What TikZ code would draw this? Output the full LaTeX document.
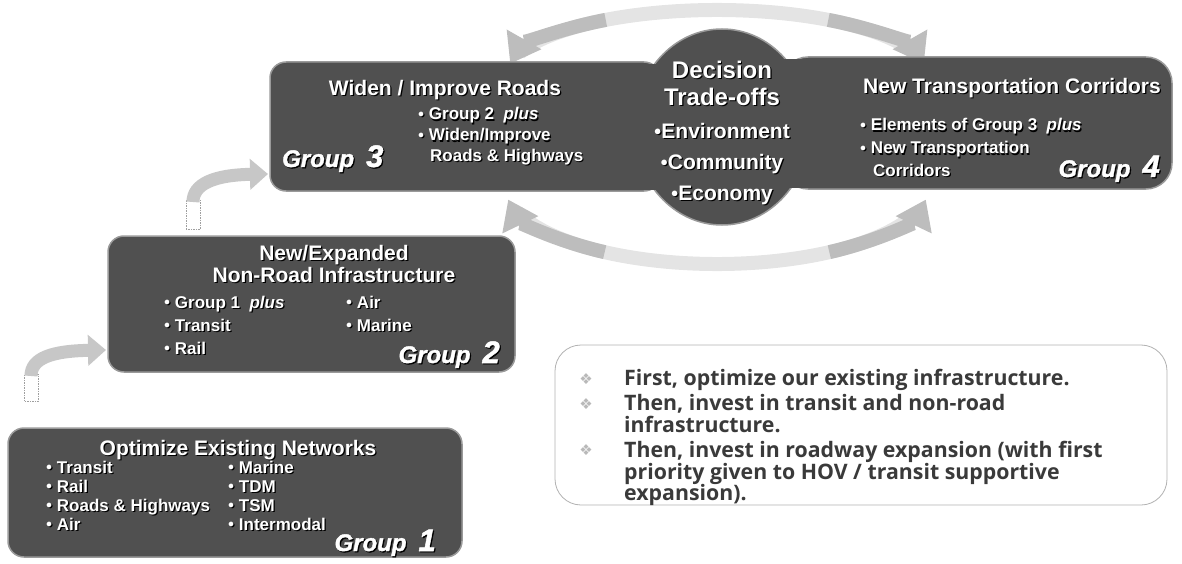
\documentclass[tikz,border=0pt]{standalone}
\usepackage{fontspec}
\setmainfont{Liberation Sans}
\newfontfamily\notefont{Open Sans}
\newfontfamily\symfont{DejaVu Sans}
\newfontfamily\grpfont[FakeBold=1.6]{Liberation Sans Bold Italic}
\usetikzlibrary{arrows.meta,shapes.geometric,calc}
\definecolor{boxgray}{HTML}{505050}
\definecolor{boxedge}{HTML}{9A9A9A}
\definecolor{arrgray}{HTML}{BDBDBD}
\definecolor{arrlight}{HTML}{E4E4E4}
\definecolor{txtgray}{HTML}{3A3A3A}
\newcommand\shd[1]{\makebox[0pt][l]{\kern1.2pt\raisebox{-1.2pt}{\color{black}#1}}#1}
\newcommand\bul{\raisebox{0.15em}{\scalebox{0.7}{$\bullet$}}}
\tikzset{
  grp/.style={draw=boxedge, line width=1.5pt, fill=boxgray, rounded corners=16pt},
  ttl/.style={text=white, font=\bfseries\fontsize{21}{21}\selectfont, inner sep=0, anchor=base},
  itm/.style={text=white, font=\bfseries\fontsize{17}{17}\selectfont, inner sep=0, anchor=base west},
  glab/.style={text=white, font=\grpfont\fontsize{24}{24}\selectfont, inner sep=0},
  dech/.style={text=white, font=\bfseries\fontsize{24}{24}\selectfont, inner sep=0, anchor=base},
  decb/.style={text=white, font=\bfseries\fontsize{21}{21}\selectfont, inner sep=0, anchor=base},
  note/.style={text=txtgray, font=\notefont\bfseries\fontsize{21.3}{21.3}\selectfont, inner sep=0, anchor=base west},
  nbul/.style={text=gray!55, font=\symfont\fontsize{15}{15}\selectfont, inner sep=0},
  band/.style={line width=14pt},
  steparr/.style={draw=arrgray!85, line width=13pt, -{Triangle[width=30pt,length=18pt]}},
  stem/.style={draw=gray!75, line width=0.6pt, dash pattern=on 1.5pt off 1pt, fill=white},
}
\begin{document}
\begin{tikzpicture}[x=1pt,y=-1pt]
\useasboundingbox (0,0) rectangle (1182,564);

% ---------- big curved arrows between group 3 and group 4 ----------
\coordinate (tc) at (717,75);
\coordinate (bc) at (717,186);
\coordinate (tl) at ($(tc)+(190:210 and 65)$);
\coordinate (tr) at ($(tc)+(350:210 and 65)$);
\coordinate (bl) at ($(bc)+(170:212 and 78)$);
\coordinate (br) at ($(bc)+(10:212 and 78)$);
\draw[band, draw=arrlight] ($(tc)+(200:210 and 65)$) arc[start angle=200, end angle=340, x radius=210, y radius=65];
\draw[band, draw=arrgray, {Triangle[width=38pt,length=28pt]}-] (tl) arc[start angle=190, end angle=238, x radius=210, y radius=65];
\draw[band, draw=arrgray, -{Triangle[width=38pt,length=28pt]}] ($(tc)+(302:210 and 65)$) arc[start angle=302, end angle=350, x radius=210, y radius=65];
\draw[band, draw=arrlight] ($(bc)+(160:212 and 78)$) arc[start angle=160, end angle=20, x radius=212, y radius=78];
\draw[band, draw=arrgray, {Triangle[width=38pt,length=28pt]}-] (bl) arc[start angle=170, end angle=122, x radius=212, y radius=78];
\draw[band, draw=arrgray, -{Triangle[width=38pt,length=28pt]}] ($(bc)+(58:212 and 78)$) arc[start angle=58, end angle=10, x radius=212, y radius=78];

% ---------- boxes ----------
\node[grp, minimum width=454pt, minimum height=129pt] (g1) at (235,492.5) {};
\node[grp, minimum width=407pt, minimum height=136pt] (g2) at (311.5,304) {};
\node[grp, minimum width=390pt, minimum height=129pt] (g3) at (465,126.5) {};
\node[grp, rounded corners=26pt, minimum width=390pt, minimum height=132pt] (g4) at (977,123) {};
\node[ellipse, draw=boxedge, line width=1.5pt, fill=boxgray, minimum width=176pt, minimum height=196pt, inner sep=0] (dt) at (722,127) {};
\fill[boxgray] (620,64) rectangle (665,189.5);
\fill[boxgray] (780,59) rectangle (830,188);

% ---------- step arrows ----------
\coordinate (t1) at (106,350);
\coordinate (t2) at (268,174);
\draw[stem] (24,401) rectangle (38,374);
\draw[steparr] (31,376) .. controls (31,358) and (52,351) .. (t1);
\draw[stem] (186,229) rectangle (200,200);
\draw[steparr] (193,202) .. controls (193,184) and (214,175) .. (t2);

% ---------- group 1 ----------
\node[ttl] (g1t) at (238,455) {\shd{Optimize Existing Networks}};
\node[itm] (g1a) at (46,473) {\shd{\bul\ Transit}};
\node[itm] (g1b) at (46,492) {\shd{\bul\ Rail}};
\node[itm] (g1c) at (46,511) {\shd{\bul\ Roads \& Highways}};
\node[itm] (g1d) at (46,530) {\shd{\bul\ Air}};
\node[itm] (g1e) at (228,473) {\shd{\bul\ Marine}};
\node[itm] (g1f) at (228,492) {\shd{\bul\ TDM}};
\node[itm] (g1g) at (228,511) {\shd{\bul\ TSM}};
\node[itm] (g1h) at (228,530) {\shd{\bul\ Intermodal}};
\node[glab, anchor=base east] (g1l) at (436,551) {\shd{Group\enspace{\fontsize{31}{31}\selectfont 1}}};

% ---------- group 2 ----------
\node[ttl, align=center, font=\bfseries\fontsize{21}{18}\selectfont] (g2t) at (334,282) {\shd{New/Expanded}\\\shd{Non-Road Infrastructure}};
\node[itm] (g2a) at (164,308) {\shd{\bul\ Group 1\ \ \textit{plus}}};
\node[itm] (g2b) at (164,331) {\shd{\bul\ Transit}};
\node[itm] (g2c) at (164,354) {\shd{\bul\ Rail}};
\node[itm] (g2d) at (346,308) {\shd{\bul\ Air}};
\node[itm] (g2e) at (346,331) {\shd{\bul\ Marine}};
\node[glab, anchor=base east] (g2l) at (500,363) {\shd{Group\enspace{\fontsize{31}{31}\selectfont 2}}};

% ---------- group 3 ----------
\node[ttl] (g3t) at (445,95.5) {\shd{Widen / Improve Roads}};
\node[itm] (g3a) at (418,120) {\shd{\bul\ Group 2\ \ \textit{plus}}};
\node[itm] (g3b) at (418,141) {\shd{\bul\ Widen/Improve}};
\node[itm] (g3c) at (430,161) {\shd{Roads \& Highways}};
\node[glab, anchor=base west] (g3l) at (282,167) {\shd{Group\enspace{\fontsize{31}{31}\selectfont 3}}};

% ---------- decision trade-offs ----------
\node[dech] (d1) at (722,78.5) {\shd{Decision}};
\node[dech] (d2) at (722,105.5) {\shd{Trade-offs}};
\node[decb] (d3) at (722,138.5) {\shd{\bul Environment}};
\node[decb] (d4) at (722,169.5) {\shd{\bul Community}};
\node[decb] (d5) at (722,200.5) {\shd{\bul Economy}};

% ---------- group 4 ----------
\node[ttl] (g4t) at (1012,93.5) {\shd{New Transportation Corridors}};
\node[itm] (g4a) at (860,131) {\shd{\bul\ Elements of Group 3\ \ \textit{plus}}};
\node[itm] (g4b) at (860,154) {\shd{\bul\ New Transportation}};
\node[itm] (g4c) at (873,176) {\shd{Corridors}};
\node[glab, anchor=base east] (g4l) at (1160,177) {\shd{Group\enspace{\fontsize{31}{31}\selectfont 4}}};

% ---------- note box ----------
\node[draw=gray!60, line width=0.8pt, fill=white, rounded corners=26pt, minimum width=612pt, minimum height=160pt] (nb) at (861,425) {};
\node[nbul] (b1) at (586,379) {❖};
\node[nbul] (b2) at (586,404) {❖};
\node[nbul] (b3) at (586,450) {❖};
\node[note] (n1) at (624,385.5) {First, optimize our existing infrastructure.};
\node[note] (n2) at (624,410.5) {Then, invest in transit and non-road};
\node[note] (n3) at (624,432) {infrastructure.};
\node[note] (n4) at (624,457.5) {Then, invest in roadway expansion (with first};
\node[note] (n5) at (624,479) {priority given to HOV / transit supportive};
\node[note] (n6) at (624,500.5) {expansion).};
\end{tikzpicture}
\end{document}
